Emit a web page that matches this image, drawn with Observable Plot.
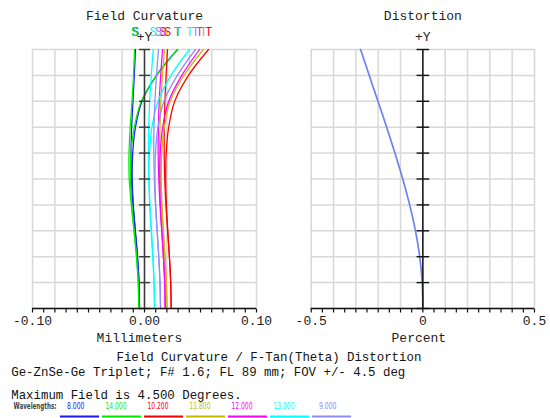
<!DOCTYPE html>
<html><head><meta charset="utf-8">
<script src="https://cdn.jsdelivr.net/npm/d3@7"></script>
<script src="https://cdn.jsdelivr.net/npm/@observablehq/plot@0.6"></script>
<style>
html,body{margin:0;padding:0;background:#fff;}
#chart{position:relative;width:550px;height:418px;overflow:hidden;background:#fff;}
#chart > svg{position:absolute;overflow:visible;}
</style>
</head><body><div id="chart"></div>
<script>
// ---- data ----
const fieldDeg = [0, 0.45, 0.9, 1.35, 1.8, 2.25, 2.7, 3.15, 3.6, 4.05, 4.5];
const wavelengthLabels = ["8.000", "14.000", "10.200", "11.800", "12.000", "13.000", "9.000"];
const wavelengthColors = ["#1a1aff", "#00ee00", "#ff0000", "#c4bc00", "#ff00ff", "#00ffff", "#8c8cff"];

// focus shift (mm) at each field, sagittal (S) and tangential (T)
const sag_8000  = [-0.00446, -0.00491, -0.00625, -0.00821, -0.01027, -0.01161, -0.01205, -0.01143, -0.01027, -0.00911, -0.00804];
const tan_8000  = [-0.00446, -0.00491, -0.00625, -0.00821, -0.01000, -0.01098, -0.01054, -0.00804, -0.00223, 0.01071, 0.02946];
const sag_14000 = [-0.00509, -0.00563, -0.00714, -0.00938, -0.01179, -0.01366, -0.01384, -0.01277, -0.01116, -0.00982, -0.00893];
const tan_14000 = [-0.00509, -0.00563, -0.00714, -0.00929, -0.01134, -0.01250, -0.01205, -0.00911, -0.00286, 0.01071, 0.02946];
const sag_10200 = [0.02384, 0.02339, 0.02223, 0.02063, 0.01911, 0.01804, 0.01759, 0.01768, 0.01821, 0.01929, 0.02054];
const tan_10200 = [0.02384, 0.02339, 0.02223, 0.02080, 0.01955, 0.01893, 0.01938, 0.02161, 0.02696, 0.03929, 0.05714];
const sag_11800 = [0.01991, 0.01946, 0.01830, 0.01679, 0.01527, 0.01420, 0.01366, 0.01384, 0.01464, 0.01607, 0.01786];
const tan_11800 = [0.01991, 0.01946, 0.01830, 0.01688, 0.01563, 0.01500, 0.01545, 0.01768, 0.02304, 0.03527, 0.05268];
const sag_12000 = [0.01848, 0.01804, 0.01688, 0.01536, 0.01384, 0.01277, 0.01223, 0.01241, 0.01313, 0.01446, 0.01607];
const tan_12000 = [0.01848, 0.01804, 0.01688, 0.01545, 0.01420, 0.01357, 0.01402, 0.01625, 0.02161, 0.03330, 0.04911];
const sag_13000 = [0.00893, 0.00857, 0.00759, 0.00625, 0.00491, 0.00393, 0.00348, 0.00375, 0.00464, 0.00607, 0.00777];
const tan_13000 = [0.00893, 0.00848, 0.00732, 0.00589, 0.00464, 0.00402, 0.00446, 0.00670, 0.01205, 0.02366, 0.04018];
const sag_9000  = [0.01429, 0.01384, 0.01277, 0.01134, 0.00982, 0.00875, 0.00830, 0.00848, 0.00929, 0.01071, 0.01250];
const tan_9000  = [0.01429, 0.01384, 0.01268, 0.01125, 0.01000, 0.00938, 0.00982, 0.01205, 0.01741, 0.02929, 0.04554];

const distortionPercent = [0, -0.003, -0.014, -0.033, -0.059, -0.090, -0.125, -0.162, -0.201, -0.240, -0.279];

const curvatureGridX = [-0.10, -0.08, -0.06, -0.04, -0.02, 0, 0.02, 0.04, 0.06, 0.08, 0.10];
const curvatureMinorTicks = [-0.10, -0.09, -0.08, -0.07, -0.06, -0.05, -0.04, -0.03, -0.02, -0.01, 0, 0.01, 0.02, 0.03, 0.04, 0.05, 0.06, 0.07, 0.08, 0.09, 0.10];
const curvatureTickValues = [-0.10, 0, 0.10];
const curvatureTickLabels = ["-0.10", "0.00", "0.10"];
const distortionGridX = [-0.5, -0.4, -0.3, -0.2, -0.1, 0, 0.1, 0.2, 0.3, 0.4, 0.5];
const distortionMinorTicks = [-0.5, -0.45, -0.4, -0.35, -0.3, -0.25, -0.2, -0.15, -0.1, -0.05, 0, 0.05, 0.1, 0.15, 0.2, 0.25, 0.3, 0.35, 0.4, 0.45, 0.5];
const distortionTickValues = [-0.5, 0, 0.5];
const distortionTickLabels = ["-0.5", "0", "0.5"];

const titleLeft = "Field Curvature";
const titleRight = "Distortion";
const xLabelLeft = "Millimeters";
const xLabelRight = "Percent";
const footerTitle = "Field Curvature / F-Tan(Theta) Distortion";
const footerLine2 = "Ge-ZnSe-Ge Triplet; F# 1.6; FL 89 mm; FOV +/- 4.5 deg";
const footerLine3 = "Maximum Field is 4.500 Degrees.";
const legendTitle = "Wavelengths:";

// ---- tables ----
const sagittal = [sag_8000, sag_14000, sag_10200, sag_11800, sag_12000, sag_13000, sag_9000];
const tangential = [tan_8000, tan_14000, tan_10200, tan_11800, tan_12000, tan_13000, tan_9000];
const rows = [];
wavelengthLabels.forEach((wl, i) => {
  fieldDeg.forEach((f, j) => {
    rows.push({key: wl + "S", type: "S", field: f, focus: sagittal[i][j], color: wavelengthColors[i]});
  });
  fieldDeg.forEach((f, j) => {
    rows.push({key: wl + "T", type: "T", field: f, focus: tangential[i][j], color: wavelengthColors[i]});
  });
});
const topRows = rows.filter(d => d.field === fieldDeg[fieldDeg.length - 1]);
const distRows = fieldDeg.map((f, j) => ({field: f, pct: distortionPercent[j]}));
const legendRows = wavelengthLabels.map((wl, i) => ({wl, color: wavelengthColors[i]}));

const hline = {draw(ctx, size) { const r = Math.sqrt(size / Math.PI); ctx.moveTo(-r, 0); ctx.lineTo(r, 0); }};
const vtick = {draw(ctx, size) { const r = Math.sqrt(size / Math.PI); ctx.moveTo(0, 0); ctx.lineTo(0, r); }};

const mono = "'Liberation Mono', 'DejaVu Sans Mono', monospace";
const gridColor = "#d8d8d8";
const M = "middle";

function panel({width, marginLeft, marginRight, domain, gridX, minorTicks, tickValues, tickLabels, title, xLabel, xLabelDx, curves, axisColor, tickR}) {
  return Plot.plot({
    width, height: 345, marginLeft, marginRight, marginTop: 49, marginBottom: 37,
    x: {domain, axis: null},
    y: {domain: [0, 4.5], axis: null},
    color: {type: "identity"},
    style: {fontFamily: mono, fontSize: "13px", color: "#222", background: "transparent", overflow: "visible"},
    marks: [
      Plot.ruleX(gridX, {stroke: gridColor, strokeWidth: 1.5}),
      Plot.ruleY(fieldDeg, {stroke: gridColor, strokeWidth: 1.5}),
      ...curves,
      Plot.ruleX([0], {stroke: axisColor, strokeWidth: 1.5}),
      Plot.dot(fieldDeg, {x: () => 0, y: d => d, symbol: hline, r: tickR, stroke: axisColor, strokeWidth: 1.4}),
      Plot.ruleY([0], {stroke: "#111", strokeWidth: 1.5}),
      Plot.dot(minorTicks, {x: d => d, y: () => 0, symbol: vtick, r: 4, stroke: "#111", strokeWidth: 1.2}),
      Plot.text(tickValues, {x: d => d, text: (d, i) => tickLabels[i], frameAnchor: "bottom", lineAnchor: M, dy: 12.8, fill: "#222"}),
      Plot.text([xLabel], {frameAnchor: "bottom", lineAnchor: M, dy: 29.3, dx: xLabelDx, fill: "#222"}),
      Plot.text([title], {frameAnchor: "top", lineAnchor: M, dy: -33.9, fill: "#222"}),
      Plot.text(["+Y"], {x: () => 0, frameAnchor: "top", lineAnchor: M, dy: -12.2, fill: "#222"})
    ]
  });
}

const left = panel({
  width: 270, marginLeft: 32, marginRight: 14, domain: [-0.1, 0.1],
  gridX: curvatureGridX, minorTicks: curvatureMinorTicks, tickValues: curvatureTickValues, tickLabels: curvatureTickLabels,
  title: titleLeft, xLabel: xLabelLeft, xLabelDx: -5, axisColor: "#3a3a3a", tickR: 5.5,
  curves: [
    Plot.line(rows, {x: "focus", y: "field", z: "key", stroke: "color", curve: "catmull-rom", strokeWidth: 1.25}),
    Plot.text(topRows, {x: "focus", text: "type", fill: "color", frameAnchor: "top", lineAnchor: M, dy: -17.3, fontSize: 12})
  ]
});
const right = panel({
  width: 280, marginLeft: 40.7, marginRight: 16, domain: [-0.5, 0.5],
  gridX: distortionGridX, minorTicks: distortionMinorTicks, tickValues: distortionTickValues, tickLabels: distortionTickLabels,
  title: titleRight, xLabel: xLabelRight, xLabelDx: -4, axisColor: "#111", tickR: 6.3,
  curves: [
    Plot.line(distRows, {x: "pct", y: "field", stroke: "#6a84ee", strokeWidth: 1.7, curve: "catmull-rom"})
  ]
});

const narrow = "'Liberation Sans Narrow', 'DejaVu Sans Condensed', sans-serif";
const footer = Plot.plot({
  width: 550, height: 73, marginLeft: 0, marginRight: 0, marginTop: 0, marginBottom: 0,
  x: {type: "band", domain: wavelengthLabels, range: [54, 357], padding: 0.08, axis: null},
  y: {domain: [0, 1], range: [71, 60.6], axis: null},
  color: {type: "identity"},
  style: {fontFamily: mono, fontSize: "12.4px", color: "#000", background: "transparent", overflow: "visible"},
  marks: [
    Plot.text([footerTitle], {frameAnchor: "top-left", lineAnchor: M, textAnchor: "start", dx: 116, dy: 12, fill: "#111"}),
    Plot.text([footerLine2], {frameAnchor: "top-left", lineAnchor: M, textAnchor: "start", dx: 10.7, dy: 27, fill: "#111"}),
    Plot.text([footerLine3], {frameAnchor: "top-left", lineAnchor: M, textAnchor: "start", dx: 10.7, dy: 49.5, fill: "#111"}),
    Plot.text([legendTitle], {frameAnchor: "top-left", lineAnchor: M, textAnchor: "start", dx: 13, dy: 60.6, fill: "#444", fontSize: 9.5,
      fontFamily: narrow, fontWeight: "bold", className: "lg-title"}),
    Plot.tickY(legendRows, {x: "wl", y: () => 0, stroke: "color", strokeWidth: 1.8}),
    Plot.text(legendRows, {x: "wl", y: () => 1, lineAnchor: M, text: "wl", fill: "color", textAnchor: "end", dx: 4.5, fontSize: 9,
      fontFamily: narrow, className: "lg-num"})
  ]
});

// condense legend text like the original narrow font
footer.querySelectorAll(".lg-num text").forEach(t => {
  t.setAttribute("textLength", (t.textContent.length * 3.5).toFixed(1));
  t.setAttribute("lengthAdjust", "spacingAndGlyphs");
});
footer.querySelectorAll(".lg-title text").forEach(t => {
  t.setAttribute("textLength", "43");
  t.setAttribute("lengthAdjust", "spacingAndGlyphs");
});

const chart = document.getElementById("chart");
left.style.left = "0px"; left.style.top = "0px";
right.style.left = "270px"; right.style.top = "0px";
footer.style.left = "0px"; footer.style.top = "345px";
chart.append(left, right, footer);
</script>
</body></html>
